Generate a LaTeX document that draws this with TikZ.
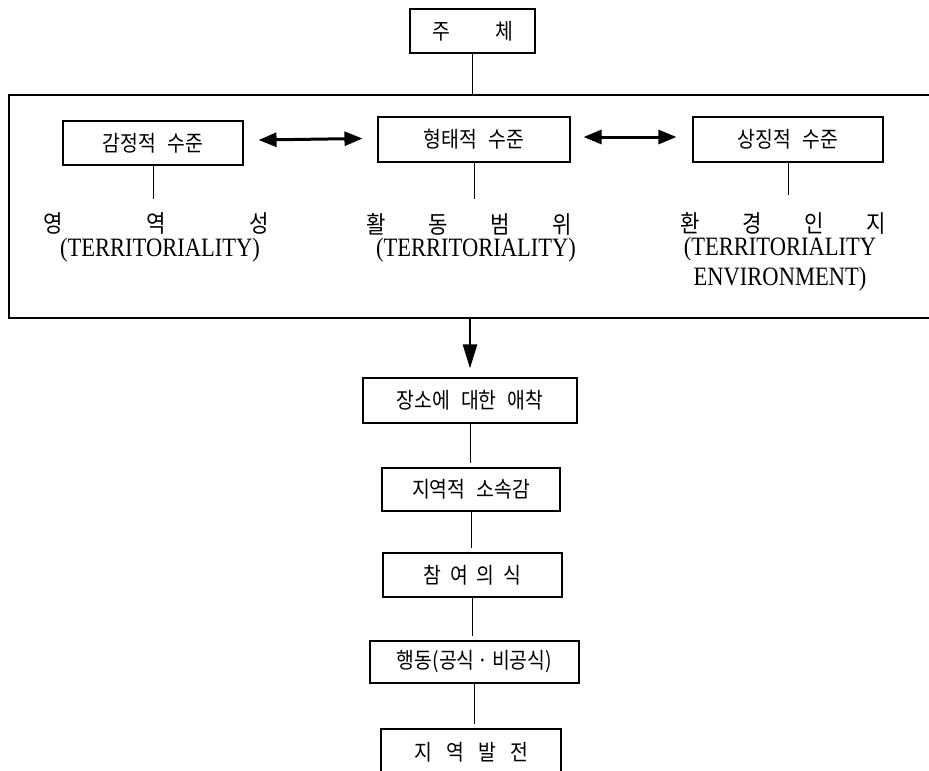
\documentclass[tikz,border=0pt]{standalone}
\usepackage{fontspec}
\setmainfont{Liberation Serif}
\newfontfamily\kr[FakeStretch=0.88]{Noto Sans CJK KR}
\newfontfamily\engf[FakeStretch=0.85]{Liberation Serif}
\usetikzlibrary{arrows.meta}
\newcommand\kgap{\hspace{0.5em}}
\begin{document}
\begin{tikzpicture}[x=1pt,y=-1pt,
  box/.style={draw, line width=1.1pt, inner sep=0pt, font=\kr\fontsize{22}{26}\selectfont},
  conn/.style={line width=0.9pt},
  eng/.style={font=\engf\fontsize{26.5}{30}\selectfont, inner sep=0pt, align=center},
  kor/.style={font=\kr\fontsize{24}{28}\selectfont, inner sep=0pt},
  dbl/.style={line width=3pt, {Triangle[length=18pt,width=14pt]}-{Triangle[length=18pt,width=14pt]}},
  down/.style={line width=2.5pt, -{Triangle[length=24pt,width=14pt]}}]
\useasboundingbox (0,0) rectangle (929,771);
% frame (open to the right)
\coordinate (ftl) at (9,95);
\coordinate (fbl) at (9,318);
\coordinate (ftr) at (929,95);
\coordinate (fbr) at (929,318);
\draw[line width=1.1pt] (ftr) -- (ftl) -- (fbl) -- (fbr);
% top
\node[box, minimum width=125pt, minimum height=44pt] (juche) at (472.5,31) {\makebox[81pt][s]{주\hfil 체}};
\draw[conn] (juche.south) -- (juche.south |- ftl);
% levels
\node[box, minimum width=180pt, minimum height=44pt] (gam) at (153,143) {감정적\kgap 수준};
\node[box, minimum width=192pt, minimum height=45pt] (hyeong) at (474,139.5) {형태적\kgap 수준};
\node[box, minimum width=190pt, minimum height=45pt] (sang) at (788,139.5) {상징적\kgap 수준};
\draw[dbl] ([shift={(15,-3)}]gam.east) -- ([shift={(-15,-1)}]hyeong.west);
\draw[dbl] ([shift={(13,-2.5)}]hyeong.east) -- ([shift={(-16,-2.5)}]sang.west);
\coordinate (lvl) at (0,199);
\draw[conn] (gam.south) -- (gam.south |- lvl);
\draw[conn] (hyeong.south) -- (hyeong.south |- lvl);
\draw[conn] (sang.south) -- ([yshift=4pt]sang.south |- lvl);
% labels
\node[kor] (k1) at (156,224) {\makebox[226pt][s]{영\hfil 역\hfil 성}};
\node[eng] (e1) at (160,250) {(TERRITORIALITY)};
\node[kor] (k2) at (469,224) {\makebox[206pt][s]{활\hfil 동\hfil 범\hfil 위}};
\node[eng] (e2) at (476,250) {(TERRITORIALITY)};
\node[kor] (k3) at (783,223) {\makebox[205pt][s]{환\hfil 경\hfil 인\hfil 지}};
\node[eng] (e3) at (780,264) {(TERRITORIALITY\\ENVIRONMENT)};
% chain
\node[box, minimum width=214pt, minimum height=45pt] (jangso) at (470,400.5) {장소에\kgap 대한\kgap 애착};
\node[box, minimum width=178pt, minimum height=43pt] (jiyeok) at (471,489.5) {지역적\kgap 소속감};
\node[box, minimum width=179pt, minimum height=44pt] (cham) at (472.5,575) {\makebox[98pt][s]{참\hfil 여\hfil 의\hfil 식}};
\node[box, minimum width=209pt, minimum height=42pt] (haeng) at (474.5,662) {행동(공식\hspace{0.15em}·\hspace{0.15em}비공식)};
\node[box, minimum width=180pt, minimum height=46pt] (bal) at (471,752) {\makebox[114pt][s]{지\hfil 역\hfil 발\hfil 전}};
\draw[down] (jangso.north |- fbl) -- ([yshift=9pt]jangso.north);
\draw[conn] (jangso.south) -- ([yshift=4pt]jangso.south |- jiyeok.north);
\draw[conn] (jiyeok.south) -- ([yshift=4pt]jiyeok.south |- cham.north);
\draw[conn] (cham.south) -- ([yshift=4pt]cham.south |- haeng.north);
\draw[conn] (haeng.south) -- ([yshift=4pt]haeng.south |- bal.north);
\end{tikzpicture}
\end{document}
